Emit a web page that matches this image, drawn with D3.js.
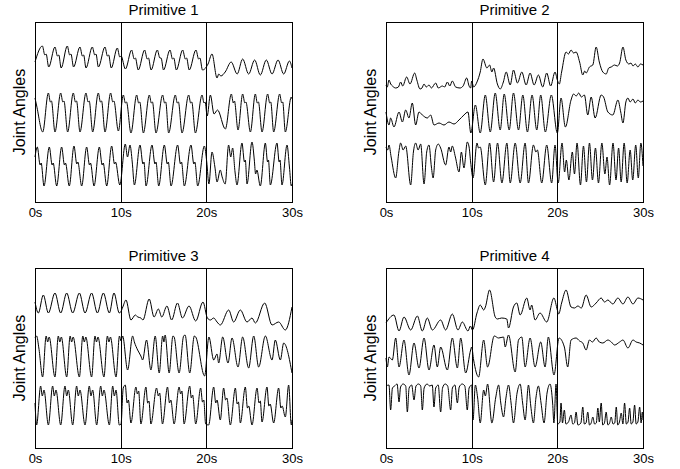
<!DOCTYPE html>
<html>
<head>
<meta charset="utf-8">
<script src="https://cdn.jsdelivr.net/npm/d3@7"></script>
<style>
  body { margin: 0; background: #fff; }
  text { font-family: "Liberation Sans", Arial, Helvetica, sans-serif; fill: #000; }
</style>
</head>
<body>
<div id="chart"></div>
<script>
// panel titles and axis text
const titles = ["Primitive 1", "Primitive 2", "Primitive 3", "Primitive 4"];
const tickTimes = [0, 10, 20, 30];
const tickLabels = ["0s", "10s", "20s", "30s"];
const dividers = [10, 20];
const yLabel = "Joint Angles";

// joint angle traces, [time (s), angle]
const p1a = [[0,140],[0.86,156],[1.15,147],[1.3,148],[1.6,135],[2.33,155],[2.62,146],[2.78,147],[3.05,134],[3.77,156],[4.05,147],[4.2,148],[4.5,135],[5.25,155],[5.53,146],[5.68,147],[5.95,134],[6.69,155],[6.98,147],[7.12,148],[7.4,135],[8.17,155],[8.45,146],[8.6,147],[8.9,134],[9.61,154],[9.9,145],[10.05,146],
  [10.55,133],[11.28,152],[11.58,143],[11.72,144],[12.05,132],[12.8,152],[13.1,143],[13.25,144],[13.55,132],[14.28,152],[14.58,144],[14.72,144],[15.0,132],[15.76,152],[16.05,143],[16.2,144],[16.5,132],[17.24,152],[17.55,143],[17.7,144],[18.0,132],[18.79,152],[19.1,143],[19.25,144],[19.55,132],
  [20.0,135],[20.2,138],[20.66,148],[21.25,124],[21.45,128],[21.7,126],[22.2,130],[22.9,140],[23.6,128],[24.24,143],[24.94,128],[25.64,142],[26.3,127],[27.0,142],[27.67,128],[28.37,142],[29.03,128],[29.7,141],[30,134]];
const p1b = [[0,104],[0.2,96],[0.9,70],[1.56,109],[1.8,100],[1.92,101],[2.33,70],[3.0,109],[3.25,100],[3.38,101],[3.81,70],[4.47,109],[4.72,100],[4.85,101],[5.25,70],[5.95,109],[6.2,100],[6.33,101],[6.73,70],[7.39,109],[7.64,100],[7.77,101],[8.17,70],[8.83,109],[9.08,100],[9.21,101],[9.73,71],
  [10.31,107],[10.55,99],[10.68,100],[11.2,69],[11.87,107],[12.1,99],[12.23,100],[12.65,69],[13.35,107],[13.58,99],[13.71,100],[14.12,69],[14.9,107],[15.13,99],[15.26,100],[15.6,69],[16.38,107],[16.61,99],[16.74,100],[17.16,69],[17.94,107],[18.17,99],[18.3,100],[18.72,69],[19.5,107],[19.73,99],[19.86,100],
  [20.1,86],[20.47,107],[20.9,88],[21.3,92],[22.22,73],[22.92,108],[23.15,99],[23.28,101],[23.7,72],[24.24,108],[24.5,99],[24.62,100],[25.14,70],[25.72,108],[25.95,99],[26.08,100],[26.5,70],[27.16,108],[27.4,99],[27.52,100],[27.86,70],[28.56,108],[28.8,99],[28.92,100],[29.22,70],[29.92,105],[30,103]];
const p1c = [[0,45],[0.27,55],[0.6,37],[0.72,39],[1.05,16],[1.67,55],[2.0,37],[2.12,39],[2.53,16],[3.11,55],[3.44,37],[3.56,39],[4.0,16],[4.55,56],[4.88,38],[5.0,40],[5.45,16],[6.03,55],[6.36,37],[6.48,39],[6.89,16],[7.51,55],[7.84,37],[7.96,39],[8.37,16],[8.95,56],[9.28,38],[9.4,40],[9.9,17],
  [10.54,58],[10.8,45],[11.09,57],[11.35,40],[11.6,17],[12.26,57],[12.6,38],[12.72,40],[12.96,16],[13.66,57],[14.0,38],[14.12,40],[14.44,16],[15.1,57],[15.44,38],[15.56,40],[15.88,16],[16.65,57],[16.98,38],[17.1,40],[17.43,16],[18.21,57],[18.54,38],[18.66,40],[18.99,16],[19.77,56],[20.05,40],[20.3,18],
  [20.66,50],[21.0,35],[21.25,20],[21.63,32],[21.85,25],[22.2,18],[22.6,57],[22.85,45],[23.07,54],[23.35,30],[23.58,17],[24.16,59],[24.45,40],[24.55,42],[24.75,18],[25.33,60],[25.6,42],[25.75,28],[25.9,32],[26.3,16],[26.89,59],[27.15,40],[27.25,42],[27.47,17],[28.25,59],[28.5,40],[28.6,42],[28.83,17],[29.42,57],[29.7,35],[29.92,16],[30,18]];

const p2a = [[0,117],[0.15,115],[0.35,122],[0.55,118],[0.75,116],[1.13,114],[1.45,115],[1.71,120],[1.95,116],[2.41,125],[2.8,118],[3.35,129],[3.6,122],[3.97,113],[4.2,114],[4.44,118],[4.7,115],[5.02,117],[5.3,114],[5.8,119],[6.1,114],[6.58,116],[6.85,115],[7.16,120],[7.45,116],[7.74,121],[8.13,115],[8.64,114],[9.0,116],[9.42,124],[9.7,116],[9.88,114],
  [10.0,121],[10.23,115],[10.62,120],[11.0,130],[11.32,143],[11.78,134],[12.09,137],[12.36,130],[12.56,134],[13.0,118],[13.33,113],[13.7,120],[14.03,130],[14.5,117],[14.88,132],[15.35,119],[15.85,130],[16.36,117],[16.82,129],[17.29,117],[17.79,127],[18.29,115],[18.76,129],[19.22,116],[19.73,130],[20.0,122],
  [20.23,118],[20.5,130],[21.02,150],[21.3,148],[21.6,152],[21.9,149],[22.19,150],[22.6,140],[22.97,127],[23.2,131],[23.36,129],[23.75,135],[24.14,137],[24.53,155],[24.9,140],[25.31,130],[25.7,128],[26.0,134],[26.29,135],[26.68,137],[27.0,136],[27.27,139],[27.66,155],[28.0,142],[28.36,138],[28.6,139],[28.83,136],[29.1,138],[29.41,135],[29.7,138],[30,137]];
const p2b = [[0,90],[0.35,77],[0.54,84],[0.93,75],[1.52,90],[1.91,80],[2.3,92],[2.68,84],[3.07,99],[3.46,77],[3.85,90],[4.24,87],[4.82,84],[5.21,87],[5.6,77],[6.19,79],[6.77,77],[7.35,80],[7.94,78],[8.52,82],[9.1,87],[9.57,90],[9.9,69],
  [10.43,97],[11.0,69],[11.59,107],[12.17,70],[12.75,109],[13.33,72],[13.8,108],[14.38,72],[14.88,109],[15.47,72],[15.97,107],[16.51,70],[17.05,107],[17.6,72],[18.06,107],[18.6,70],[19.3,107],[20.0,69],
  [20.43,104],[20.94,75],[21.6,102],[21.9,108],[22.2,106],[22.5,109],[22.8,105],[23.16,107],[23.55,87],[23.95,105],[24.41,84],[25.12,107],[25.4,105],[25.9,90],[26.48,87],[27.07,102],[27.4,90],[27.66,79],[28.0,100],[28.24,104],[28.5,100],[28.83,103],[29.1,99],[29.41,102],[29.7,100],[30,101]];
const p2c = [[0,55],[0.2,52],[0.35,57],[0.6,45],[1.13,24],[1.5,50],[1.71,59],[2.0,52],[2.3,56],[2.88,17],[3.2,50],[3.46,59],[3.75,52],[4.05,58],[4.44,18],[4.75,50],[5.02,57],[5.3,35],[5.5,24],[5.8,52],[6.1,58],[6.38,54],[6.96,37],[7.35,55],[7.55,50],[7.74,56],[8.1,45],[8.52,30],[8.8,50],[9.1,34],[9.49,60],[9.7,55],[9.88,40],
  [10.16,24],[10.62,59],[10.8,54],[11.0,55],[11.59,17],[12.09,59],[12.56,20],[13.02,59],[13.53,19],[14.11,59],[14.5,19],[15.08,59],[15.66,19],[16.24,59],[16.63,19],[17.21,57],[17.5,50],[17.67,52],[18.18,19],[18.76,57],[19.34,19],[19.73,57],
  [20.1,19],[20.55,59],[20.85,30],[21.05,42],[21.35,22],[21.75,50],[22.0,28],[22.3,59],[22.7,17],[23.05,56],[23.4,20],[23.75,59],[24.1,22],[24.45,54],[24.8,19],[25.2,59],[25.55,28],[25.8,45],[26.1,17],[26.5,59],[26.85,22],[27.15,54],[27.45,20],[27.8,59],[28.15,19],[28.5,52],[28.8,22],[29.15,57],[29.45,24],[29.75,59],[30,36]];

const p3a = [[0,146],[0.39,135],[0.97,153],[1.56,135],[2.33,155],[3.0,135],[3.7,155],[4.4,135],[5.18,155],[5.84,135],[6.61,155],[7.28,135],[7.98,155],[8.68,135],[9.22,155],[9.84,135],
  [10.0,136],[10.25,141],[10.62,148],[11.2,128],[11.71,133],[12.0,131],[12.36,130],[12.6,128],[13.33,149],[13.9,131],[14.4,139],[14.8,131],[15.4,142],[15.95,128],[16.63,145],[17.21,130],[17.98,142],[18.76,127],[19.61,146],[20.12,130],
  [20.47,128],[20.86,130],[21.25,126],[21.63,123],[22.61,138],[23.19,126],[23.97,138],[24.75,126],[25.33,130],[25.72,125],[26.81,145],[27.67,123],[28.44,126],[29.22,118],[30,141]];
const p3b = [[0,110],[0.19,112],[0.45,100],[0.89,71],[1.3,112],[1.48,106],[1.65,111],[2.33,71],[2.72,112],[2.9,106],[3.07,111],[3.7,71],[4.1,112],[4.28,106],[4.45,111],[5.18,71],[5.58,112],[5.76,106],[5.93,111],[6.61,71],[7.0,112],[7.18,106],[7.35,111],[8.05,71],[8.45,112],[8.63,106],[8.8,111],[9.46,71],[9.86,112],[10.04,107],
  [10.23,112],[10.81,78],[11.4,112],[11.6,106],[11.98,98],[12.36,92],[12.56,88],[13.02,108],[13.53,78],[14.03,112],[14.5,75],[14.9,112],[15.05,106],[15.19,113],[15.66,75],[16.1,112],[16.24,111],[16.82,75],[17.35,112],[17.52,113],[18.06,75],[18.6,112],[18.76,111],[19.8,72],
  [20.3,111],[20.86,88],[21.25,94],[21.44,85],[21.91,111],[22.53,85],[23.0,110],[23.7,81],[24.24,111],[24.94,80],[25.53,112],[26.11,81],[26.89,112],[27.67,88],[28.05,108],[28.64,88],[29.03,105],[30,75]];
const p3c = [[0,45],[0.19,23],[0.66,62],[0.85,52],[1.05,58],[1.56,23],[2.06,62],[2.25,52],[2.45,58],[3.0,23],[3.5,62],[3.7,52],[3.89,58],[4.4,23],[4.86,62],[5.05,52],[5.25,58],[5.84,23],[6.34,62],[6.53,52],[6.73,58],[7.2,23],[7.67,62],[7.86,52],[8.05,58],[8.68,23],[9.07,62],[9.26,52],[9.46,58],[9.84,23],
  [10.04,24],[10.3,60],[10.54,63],[10.75,45],[10.9,48],[11.2,25],[11.78,61],[11.95,54],[12.1,57],[12.36,24],[12.95,61],[13.15,45],[13.3,47],[13.53,24],[14.19,60],[14.4,52],[14.55,55],[14.88,24],[15.47,61],[15.7,45],[15.85,48],[16.24,24],[16.82,61],[17.0,54],[17.15,57],[17.4,24],[18.06,62],[18.25,50],[18.4,53],[18.76,24],[19.34,60],[19.55,46],[19.7,48],[19.92,24],
  [20.27,23],[20.86,61],[21.1,45],[21.25,48],[21.63,28],[22.02,60],[22.25,48],[22.4,50],[22.8,23],[23.39,60],[23.6,44],[23.75,46],[23.97,25],[24.55,61],[24.8,40],[24.95,42],[25.33,23],[25.92,60],[26.15,45],[26.3,47],[26.5,26],[27.08,61],[27.3,42],[27.45,44],[27.86,25],[28.44,60],[28.7,40],[28.85,42],[29.22,31],[29.61,63],[29.92,23],[30,28]];

const p4a = [[0,125],[0.93,133],[1.52,117],[2.1,131],[2.88,118],[3.66,132],[4.24,117],[4.82,130],[5.41,118],[6.38,128],[6.96,118],[7.74,134],[8.4,118],[8.91,126],[9.57,117],[9.85,122],
  [10.1,118],[10.62,135],[11.0,143],[11.4,138],[11.6,141],[12.09,158],[12.75,131],[13.0,129],[13.5,130],[14.1,129],[14.3,120],[14.88,141],[15.27,145],[15.66,133],[16.43,150],[16.82,138],[17.0,143],[17.4,128],[17.98,135],[18.76,126],[19.6,150],[20.0,138],
  [20.16,134],[20.5,145],[21.02,158],[21.6,141],[22.0,140],[22.4,142],[22.8,140],[23.36,153],[23.95,141],[24.53,145],[25.12,150],[25.51,146],[25.9,148],[26.48,144],[27.07,150],[27.66,144],[28.24,151],[28.83,144],[29.41,150],[30,148]];
const p4b = [[0,90],[0.16,81],[0.35,91],[0.74,88],[1.13,110],[1.52,81],[2.1,108],[2.68,73],[3.27,105],[3.85,80],[4.44,110],[5.02,78],[5.6,103],[5.99,81],[6.38,101],[7.16,78],[7.74,110],[8.33,80],[8.72,110],[9.3,75],[9.88,98],
  [10.0,101],[10.23,88],[10.81,71],[11.4,108],[11.86,81],[12.64,112],[13.14,110],[13.72,111],[13.91,101],[14.3,113],[15.08,76],[15.47,108],[15.85,111],[16.24,81],[16.82,110],[17.4,81],[18.06,106],[18.57,81],[18.95,111],[19.61,73],
  [20.2,110],[20.82,101],[21.21,81],[21.6,108],[22.19,110],[22.6,107],[22.97,105],[23.36,98],[23.75,108],[24.1,106],[24.53,110],[24.9,106],[25.31,105],[25.9,108],[26.3,106],[26.68,103],[27.27,106],[27.66,108],[28.24,100],[28.83,108],[29.2,106],[29.61,105],[30,103]];
const p4c = [[0,62],[0.35,63],[0.54,38],[0.75,60],[1.0,62],[1.3,64],[1.52,46],[1.7,61],[2.0,64],[2.3,62],[2.49,36],[2.7,60],[3.0,63],[3.27,48],[3.5,62],[3.8,64],[4.05,62],[4.24,38],[4.45,60],[4.8,64],[5.1,62],[5.4,63],[5.6,41],[5.8,60],[6.1,63],[6.38,36],[6.6,60],[6.9,64],[7.2,62],[7.55,38],[7.75,60],[8.05,63],[8.33,45],[8.55,61],[8.9,64],[9.2,62],[9.49,38],[9.7,60],[10.0,63],
  [10.16,28],[10.43,63],[10.7,50],[11.0,25],[11.4,58],[11.6,52],[11.86,64],[12.36,25],[12.8,50],[13.14,63],[13.4,45],[13.72,31],[14.0,50],[14.3,63],[14.6,45],[14.88,25],[15.3,55],[15.66,64],[15.95,45],[16.24,28],[16.63,63],[16.9,42],[17.21,25],[17.5,50],[17.79,62],[18.1,45],[18.45,25],[18.8,55],[19.15,64],[19.45,45],[19.6,25],[19.85,64],
  [20.05,24],[20.3,26],[20.43,45],[20.6,25],[20.82,38],[21.0,24],[21.3,26],[21.6,33],[21.8,24],[22.0,25],[22.19,36],[22.4,23],[22.75,25],[22.97,41],[23.15,24],[23.35,25],[23.55,36],[23.75,23],[23.95,25],[24.14,31],[24.35,24],[24.55,25],[24.73,40],[24.9,26],[25.12,45],[25.3,23],[25.5,25],[25.7,36],[25.9,23],[26.1,25],[26.29,31],[26.5,24],[26.7,25],[26.88,41],[27.05,23],[27.25,26],[27.46,35],[27.65,24],[27.85,45],[28.05,24],[28.25,26],[28.44,40],[28.62,24],[28.82,26],[29.02,43],[29.2,24],[29.4,26],[29.61,41],[29.78,25],[29.92,36],[30,28]];

const panels = [
  {title: titles[0], traces: [p1a, p1b, p1c]},
  {title: titles[1], traces: [p2a, p2b, p2c]},
  {title: titles[2], traces: [p3a, p3b, p3c]},
  {title: titles[3], traces: [p4a, p4b, p4c]}
];

const width = 680, height = 469;
const plotW = 257, plotH = 180;
const colX = [35, 386], rowY = [22, 268];

const svg = d3.select("#chart").append("svg")
  .attr("width", width)
  .attr("height", height);

const x = d3.scaleLinear().domain([0, 30]).range([0, plotW]);
const y = d3.scaleLinear().domain([0, 180]).range([plotH, 0]);

const line = d3.line()
  .x(d => x(d[0]))
  .y(d => y(d[1]))
  .curve(d3.curveMonotoneX);

panels.forEach((p, i) => {
  const g = svg.append("g")
    .attr("transform", `translate(${colX[i % 2]},${rowY[Math.floor(i / 2)]})`);

  // divider lines at 10s and 20s
  g.selectAll(".div")
    .data(dividers)
    .enter().append("line")
    .attr("x1", d => Math.round(x(d)) + 0.5)
    .attr("x2", d => Math.round(x(d)) + 0.5)
    .attr("y1", 0)
    .attr("y2", plotH)
    .attr("stroke", "#000")
    .attr("stroke-width", 1);

  g.selectAll(".trace")
    .data(p.traces)
    .enter().append("path")
    .attr("d", line)
    .attr("fill", "none")
    .attr("stroke", "#000")
    .attr("stroke-width", 1);

  g.append("rect")
    .attr("x", 0.5)
    .attr("y", 0.5)
    .attr("width", plotW)
    .attr("height", plotH)
    .attr("fill", "none")
    .attr("stroke", "#000")
    .attr("stroke-width", 1);

  const axis = d3.axisBottom(x)
    .tickValues(tickTimes)
    .tickFormat((d, k) => tickLabels[k])
    .tickSize(0)
    .tickPadding(6);
  const ax = g.append("g")
    .attr("transform", `translate(0,${plotH})`)
    .call(axis);
  ax.select(".domain").remove();
  ax.selectAll("text")
    .attr("font-size", 13)
    .attr("font-family", "Liberation Sans, Arial, sans-serif")
    .attr("fill", "#000");

  g.append("text")
    .attr("x", plotW / 2)
    .attr("y", -7)
    .attr("text-anchor", "middle")
    .attr("font-size", 15)
    .text(p.title);

  g.append("text")
    .attr("transform", `translate(-10,${plotH / 2}) rotate(-90)`)
    .attr("text-anchor", "middle")
    .attr("font-size", 16)
    .text(yLabel);
});
</script>
</body>
</html>
